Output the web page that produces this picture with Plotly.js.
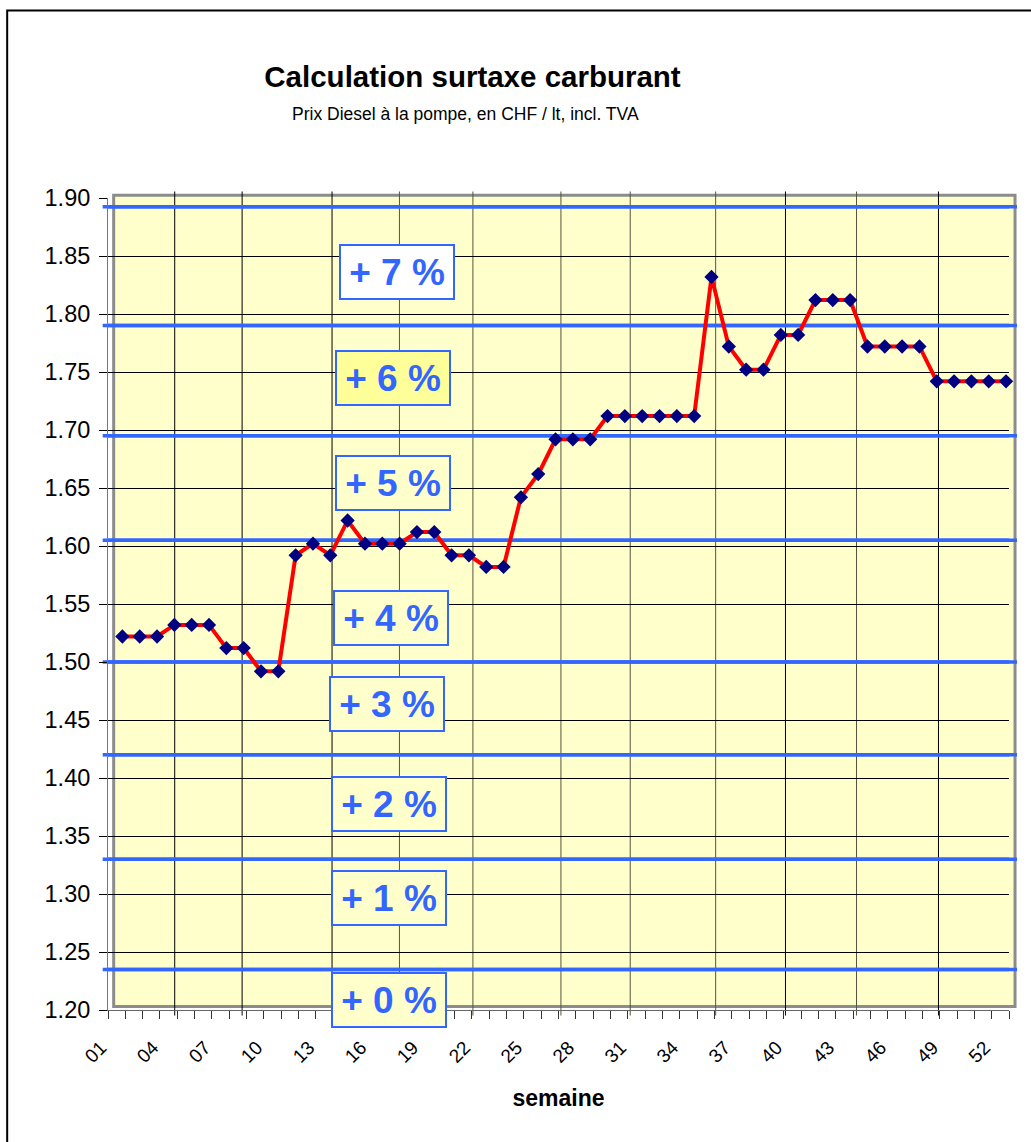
<!DOCTYPE html>
<html>
<head>
<meta charset="utf-8">
<script src="https://cdn.plot.ly/plotly-3.0.1.min.js"></script>
<style>
  html, body { margin: 0; padding: 0; background: #ffffff; }
  #chart { width: 1031px; height: 1142px; }
</style>
</head>
<body>
<div id="chart"></div>
<script>
// ---- data ----
const weeks = [1,2,3,4,5,6,7,8,9,10,11,12,13,14,15,16,17,18,19,20,21,22,23,24,25,26,
               27,28,29,30,31,32,33,34,35,36,37,38,39,40,41,42,43,44,45,46,47,48,49,50,51,52];
const prixDiesel = [1.522,1.522,1.522,1.532,1.532,1.532,1.512,1.512,1.492,1.492,
                    1.592,1.602,1.592,1.622,1.602,1.602,1.602,1.612,1.612,1.592,
                    1.592,1.582,1.582,1.642,1.662,1.692,1.692,1.692,1.712,1.712,
                    1.712,1.712,1.712,1.712,1.832,1.772,1.752,1.752,1.782,1.782,
                    1.812,1.812,1.812,1.772,1.772,1.772,1.772,1.742,1.742,1.742,
                    1.742,1.742];
const weekTickLabels = ['01','04','07','10','13','16','19','22','25','28','31','34','37',
                        '40','43','46','49','52'];
// surcharge thresholds (CHF / lt) and their labels
const seuils = [1.235, 1.33, 1.42, 1.50, 1.605, 1.695, 1.79, 1.8925];
const surtaxeLabels = ['+ 0 %','+ 1 %','+ 2 %','+ 3 %','+ 4 %','+ 5 %','+ 6 %','+ 7 %'];
// vertical (month) grid lines, in week units
const monthGrid = [4.02, 7.91, 13.10, 16.99, 21.23, 26.31, 30.31, 35.24, 39.27, 43.37, 48.10];

// ---- layout helpers ----
const FONT = 'Liberation Sans, Arial, sans-serif';
const BLUE = '#3366FF';
const labelPos = [ // [paper x, y value, fill]
  [0.3117, 1.2086, '#FFFFCC'],
  [0.3119, 1.2966, '#FFFFCC'],
  [0.3119, 1.378,  '#FFFFCC'],
  [0.3094, 1.464,  '#FFFFCC'],
  [0.3139, 1.538,  '#FFFFCC'],
  [0.3160, 1.654,  '#FFFFCC'],
  [0.3160, 1.745,  '#FFFF99'],
  [0.3205, 1.836,  '#FFFFFF']
];
const xOffset = 0.83; // tick (category boundary) to point offset
const xMin = 1 - xOffset, xMax = 53 - xOffset;
const tickvals = weekTickLabels.map(l => parseInt(l, 10) - xOffset);

const shapes = [];
// outer chart frame
shapes.push({type:'rect', xref:'paper', yref:'paper', x0:-0.1119, x1:1.06, y0:-0.2, y1:1.2309,
  line:{color:'#000000', width:2}, fillcolor:'rgba(0,0,0,0)', layer:'below'});
// plot area background with grey border
shapes.push({type:'rect', xref:'paper', yref:'paper', x0:0.0063, x1:1.0067, y0:0.0043, y1:1.0034,
  line:{color:'#8c8c8c', width:3}, fillcolor:'#FFFFCC', layer:'below'});
const monthColors = ['#000','#000','#000','#55553f','#55553f','#55553f','#55553f','#55553f','#000','#55553f','#000'];
monthGrid.forEach((m, i) => shapes.push({type:'line', xref:'x', yref:'paper', x0:m, x1:m, y0:-0.0068, y1:1.008,
  line:{color:monthColors[i], width:1}, layer:'below'}));
// threshold lines: wide part (extends a little past the plot area) + part above gridlines
seuils.forEach(s => shapes.push({type:'line', xref:'paper', yref:'y', x0:-0.0059, x1:1.0089, y0:s, y1:s,
  line:{color:BLUE, width:3.5}, layer:'below'}));
seuils.forEach(s => shapes.push({type:'line', xref:'x', yref:'y', x0:xMin, x1:xMax, y0:s, y1:s,
  line:{color:BLUE, width:3.5}, layer:'between'}));

const annotations = surtaxeLabels.map((t, i) => ({
  text: t, xref:'paper', yref:'y', x: labelPos[i][0], y: labelPos[i][1],
  xanchor:'center', yanchor:'middle', showarrow:false,
  width:110, height:50, borderpad:1, borderwidth:2, bordercolor:BLUE, bgcolor:labelPos[i][2],
  font:{family:FONT, size:37, color:BLUE, weight:'bold'}
}));
annotations.push({
  text:'Prix Diesel à la pompe, en CHF / lt, incl. TVA', xref:'paper', yref:'paper',
  x:0.3972, y:1.103, xanchor:'center', yanchor:'middle', showarrow:false,
  font:{family:FONT, size:17.5, color:'#000'}
});

const trace = {
  x: weeks, y: prixDiesel, type:'scatter', mode:'lines+markers',
  line:{color:'#FF0000', width:4},
  marker:{symbol:'diamond', size:11, color:'#000080'},
  cliponaxis:false, hoverinfo:'x+y'
};

const layout = {
  width:1031, height:1142,
  margin:{l:108, r:22, t:198, b:132, pad:0},
  paper_bgcolor:'#ffffff', plot_bgcolor:'rgba(0,0,0,0)',
  showlegend:false,
  font:{family:FONT, color:'#000'},
  title:{text:'Calculation surtaxe carburant', x:0.4583, xref:'container', xanchor:'center',
         y:0.9326, yref:'container', yanchor:'middle',
         font:{family:FONT, size:29.5, weight:'bold', color:'#000'}},
  xaxis:{
    type:'linear', range:[xMin, xMax], autorange:false,
    tickmode:'array', tickvals:tickvals, ticktext:weekTickLabels, tickangle:-45,
    ticks:'outside', ticklen:8, tickcolor:'#333', tickwidth:1,
    ticklabelstandoff:10, ticklabelshift:-7,
    minor:{tick0:xMin, dtick:1, ticks:'outside', ticklen:8, tickcolor:'#333', showgrid:false},
    showgrid:false, zeroline:false, showline:true, linecolor:'#666', linewidth:1,
    tickfont:{family:FONT, size:19, color:'#000'},
    title:{text:'semaine', font:{family:FONT, size:23, weight:'bold', color:'#000'}, standoff:24}
  },
  yaxis:{
    range:[1.2, 1.9], autorange:false, dtick:0.05, tick0:1.2, tickformat:'.2f',
    ticks:'outside', ticklen:8, tickcolor:'#000', tickwidth:1,
    ticklabelstandoff:4,
    showgrid:true, gridcolor:'#000', gridwidth:1, zeroline:false,
    showline:true, linecolor:'#777', linewidth:1,
    tickfont:{family:FONT, size:23.5, color:'#000'}
  },
  shapes: shapes,
  annotations: annotations
};

Plotly.newPlot('chart', [trace], layout, {displayModeBar:false, staticPlot:true});
</script>
</body>
</html>
